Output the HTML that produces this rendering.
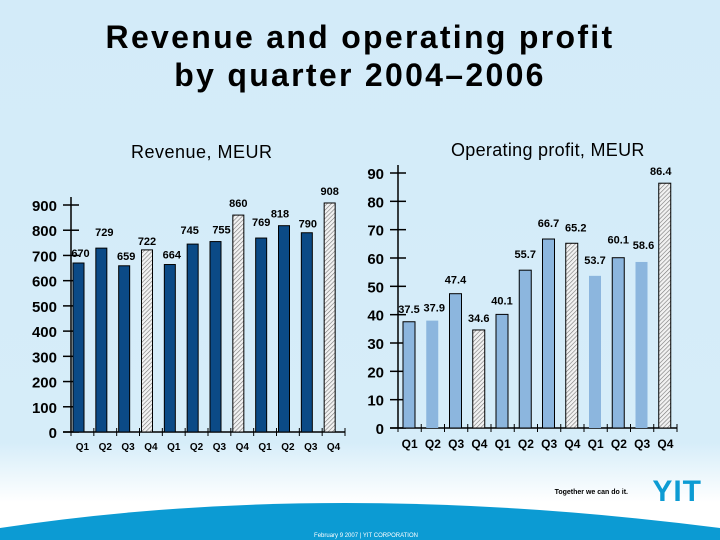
<!DOCTYPE html>
<html><head><meta charset="utf-8"><style>
body{margin:0}
#page{position:relative;width:720px;height:540px;overflow:hidden;font-family:"Liberation Sans",sans-serif;background:linear-gradient(180deg,#d3ebf9 0%,#d6edf9 82%,#ffffff 93%)}
.t{position:absolute;font-weight:bold}
</style></head><body>
<div id="page">
<div class="t" style="left:0;width:720px;top:18px;text-align:center;font-size:32px;line-height:38px;letter-spacing:2.3px;color:#000">Revenue and operating profit<br>by quarter 2004–2006</div>
<div class="t" style="left:131px;top:142px;font-size:18px;font-weight:normal;letter-spacing:0.5px">Revenue, MEUR</div>
<div class="t" style="left:451px;top:140px;font-size:18px;font-weight:normal;letter-spacing:0.3px">Operating profit, MEUR</div>
<svg id="svg" width="720" height="540" style="position:absolute;left:0;top:0">
<defs><pattern id="hatch" width="3" height="3" patternUnits="userSpaceOnUse" patternTransform="rotate(45)"><rect width="3" height="3" fill="#f2f2f2"/><line x1="0" y1="0" x2="0" y2="3" stroke="#777" stroke-width="1.2"/></pattern></defs>
<path d="M0,528 Q330,478 720,528 L720,540 L0,540 Z" fill="#0c9bd3"/>
<text x="366" y="537" font-size="6" fill="#fff" text-anchor="middle" font-family="Liberation Sans">February 9 2007   |   YIT CORPORATION</text>
<text x="628" y="494" font-size="7" font-weight="bold" text-anchor="end" font-family="Liberation Sans">Together we can do it.</text>
<text x="702" y="501" font-size="30" font-weight="bold" fill="#0c9bd3" text-anchor="end" font-family="Liberation Sans" letter-spacing="1">YIT</text>
</svg>
</div>
<script>
const quarters=["Q1","Q2","Q3","Q4","Q1","Q2","Q3","Q4","Q1","Q2","Q3","Q4"];
const revenue=[670,729,659,722,664,745,755,860,769,818,790,908];
const revenueLabels=["670","729","659","722","664","745","755","860","769","818","790","908"];
const revenueTicks=[0,100,200,300,400,500,600,700,800,900];
const profit=[37.5,37.9,47.4,34.6,40.1,55.7,66.7,65.2,53.7,60.1,58.6,86.4];
const profitLabels=["37.5","37.9","47.4","34.6","40.1","55.7","66.7","65.2","53.7","60.1","58.6","86.4"];
const profitTicks=[0,10,20,30,40,50,60,70,80,90];
const hatched=[false,false,false,true,false,false,false,true,false,false,false,true];
const profitNoBorder=[false,true,false,false,false,false,false,false,true,false,true,false];
const svg=document.getElementById('svg');
const NS='http://www.w3.org/2000/svg';
function mk(t,a,txt){const e=document.createElementNS(NS,t);for(const k in a)e.setAttribute(k,a[k]);if(txt!==undefined)e.textContent=txt;svg.appendChild(e);return e;}
function chart(o){
  const y=v=>o.y0-(v-0)/o.max*(o.y0-o.yTop);
  const slot=(o.x1-o.x0)/12;
  let ax=mk('line',{x1:o.x0,y1:y(o.max)-8,x2:o.x0,y2:o.y0,stroke:'#000','stroke-width':1.5});
  
  let bx=mk('line',{x1:o.x0-8,y1:o.y0,x2:o.x1,y2:o.y0,stroke:'#000','stroke-width':1.5});
  
  o.ticks.forEach(t=>{
    let l=mk('line',{x1:o.x0-8,x2:o.x0+8,y1:y(t),y2:y(t),stroke:'#000','stroke-width':1.5});
    
    let tx=mk('text',{x:o.x0-14,y:y(t)+6,'text-anchor':'end','font-size':o.tickFs,'font-weight':'bold','font-family':'Liberation Sans'},String(t));
    
  });
  for(let i=0;i<=12;i++){let l=mk('line',{x1:o.x0+i*slot,x2:o.x0+i*slot,y1:o.y0-4,y2:o.y0+4,stroke:'#000'});}
  o.vals.forEach((v,i)=>{
    const bxl=o.x0+i*slot+o.off;
    const noB=o.noBorder&&o.noBorder[i];
    let r=mk('rect',{x:bxl,y:y(v),width:o.bw,height:o.y0-y(v),fill:hatched[i]?'url(#hatch)':o.color,stroke:noB?'none':'#000','stroke-width':1});
    
    let lb=mk('text',{x:bxl+o.bw/2+o.lblDx[i],y:y(v)-o.lblDy[i],'text-anchor':'middle','font-size':11,'font-weight':'bold','font-family':'Liberation Sans'},o.labels[i]);
    
    let q=mk('text',{x:o.x0+(i+0.5)*slot,y:o.y0+o.qDy,'text-anchor':'middle','font-size':o.qFs,'font-weight':'bold','font-family':'Liberation Sans'},quarters[i]);
    
  });
}
chart({name:'revenue',x0:71,x1:345,y0:432,yTop:205,max:900,ticks:revenueTicks,vals:revenue,labels:revenueLabels,bw:11,off:2,color:'#0b4a86',tickFs:15,qFs:10,qDy:18,
  lblDx:[2,3,2,0,2,-3,6,0,0,-4,1,0],lblDy:[6,12,6,5,6,10,8,8,12,8,5,8]});
chart({name:'profit',x0:398,x1:677,y0:428,yTop:173,max:90,ticks:profitTicks,vals:profit,labels:profitLabels,bw:12,off:5,color:'#8cb6de',tickFs:15,qFs:12,qDy:20,noBorder:profitNoBorder,
  lblDx:[0,2,0,0,0,0,0,4,0,0,2,-4],lblDy:[9,9,10,8,10,12,12,12,12,14,13,8]});
</script>
</body></html>
